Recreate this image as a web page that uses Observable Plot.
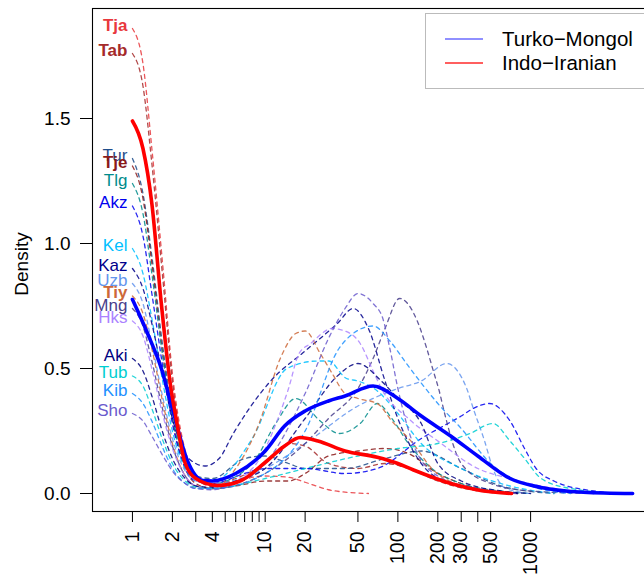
<!DOCTYPE html>
<html><head><meta charset="utf-8">
<script src="https://cdn.jsdelivr.net/npm/d3@7"></script>
<script src="https://cdn.jsdelivr.net/npm/@observablehq/plot@0.6"></script>
<style>body{margin:0;background:#fff;} #chart{width:644px;height:577px;}</style>
</head><body><div id="chart"></div>
<script>
// Density curves: [x, density]
const Tja = [[1,1.86],[1.2,1.72],[1.4,1.38],[1.7,0.9],[2,0.48],[2.5,0.17],[3,0.07],[4,0.03],[6,0.05],[10,0.07],[15,0.065],[20,0.045],[30,0.015],[50,0.002],[60,0]];
const Tab = [[1,1.76],[1.2,1.63],[1.4,1.32],[1.7,0.85],[2,0.45],[2.5,0.15],[3,0.06],[4,0.03],[6,0.06],[10,0.12],[15,0.2],[20,0.19],[30,0.12],[50,0.1],[80,0.12],[120,0.1],[200,0.05],[400,0.01],[600,0]];
const Tje = [[1,1.31],[1.2,1.18],[1.4,0.92],[1.7,0.55],[2,0.3],[2.5,0.1],[3,0.04],[4,0.02],[6,0.03],[10,0.05],[15,0.05],[20,0.08],[30,0.15],[50,0.17],[80,0.18],[120,0.16],[200,0.08],[300,0.04],[500,0.01],[800,0]];
const Tiy = [[1,0.79],[1.2,0.72],[1.4,0.58],[1.7,0.36],[2,0.2],[2.5,0.07],[3,0.03],[4,0.02],[6,0.1],[9,0.28],[13,0.54],[17,0.64],[20,0.65],[26,0.56],[32,0.48],[40,0.4],[50,0.38],[70,0.36],[90,0.29],[130,0.2],[180,0.1],[300,0.03],[500,0.005],[700,0]];
const Tur = [[1,1.34],[1.2,1.2],[1.4,0.95],[1.7,0.58],[2,0.33],[2.5,0.13],[3,0.07],[4,0.06],[7,0.14],[10,0.15],[15,0.12],[20,0.1],[40,0.1],[80,0.14],[150,0.17],[300,0.1],[600,0.03],[1500,0]];
const Tlg = [[1,1.24],[1.2,1.12],[1.4,0.88],[1.7,0.54],[2,0.3],[2.5,0.12],[3,0.06],[4,0.04],[8,0.12],[12,0.28],[17,0.38],[26,0.29],[36,0.24],[52,0.28],[70,0.36],[90,0.3],[120,0.2],[180,0.1],[300,0.04],[600,0.01],[1000,0]];
const Akz = [[1,1.15],[1.2,1.03],[1.4,0.8],[1.7,0.5],[2,0.28],[2.5,0.1],[3,0.05],[4,0.04],[7,0.08],[10,0.1],[20,0.1],[40,0.08],[70,0.1],[150,0.22],[300,0.31],[370,0.34],[490,0.36],[700,0.29],[900,0.18],[1100,0.1],[1500,0.05],[3000,0.01],[5000,0]];
const Kel = [[1,0.98],[1.2,0.88],[1.4,0.7],[1.7,0.44],[2,0.25],[2.5,0.1],[3,0.06],[4,0.05],[8,0.22],[14.6,0.5],[25,0.53],[30,0.53],[41,0.46],[50,0.45],[70,0.41],[100,0.32],[150,0.2],[300,0.1],[700,0.03],[1500,0]];
const Kaz = [[1,0.9],[1.2,0.82],[1.4,0.68],[1.7,0.47],[2,0.3],[2.5,0.16],[3,0.12],[3.5,0.11],[4.5,0.14],[5.75,0.24],[11,0.45],[20,0.57],[35,0.68],[46,0.74],[60,0.66],[80,0.45],[100,0.3],[150,0.12],[250,0.04],[500,0.01],[800,0]];
const Uzb = [[1,0.84],[1.2,0.76],[1.4,0.6],[1.7,0.38],[2,0.22],[2.5,0.09],[3,0.05],[4,0.04],[10,0.1],[20,0.2],[50,0.35],[100,0.42],[150,0.45],[233,0.52],[330,0.42],[370,0.34],[450,0.21],[520,0.1],[650,0.02],[1000,0]];
const Mng = [[1,0.74],[1.2,0.67],[1.4,0.53],[1.7,0.33],[2,0.19],[2.5,0.07],[3,0.03],[4,0.02],[10,0.08],[20,0.2],[30,0.3],[50,0.42],[65,0.54],[80,0.66],[103,0.78],[140,0.69],[165,0.58],[185,0.49],[205,0.41],[225,0.32],[300,0.12],[500,0.04],[1000,0.01],[3000,0]];
const Hks = [[1,0.69],[1.2,0.63],[1.4,0.5],[1.7,0.31],[2,0.18],[2.5,0.07],[3,0.03],[4,0.02],[8,0.1],[12.5,0.3],[15,0.42],[18,0.56],[22,0.6],[32,0.66],[40,0.65],[52,0.6],[65,0.49],[77,0.41],[120,0.3],[200,0.21],[400,0.1],[700,0.06],[1500,0.02],[4000,0]];
const Aki = [[1,0.54],[1.2,0.49],[1.4,0.39],[1.7,0.24],[2,0.14],[2.5,0.06],[3,0.03],[4,0.025],[6,0.05],[10,0.1],[20,0.3],[35,0.47],[50,0.52],[75,0.45],[100,0.38],[150,0.28],[200,0.12],[300,0.05],[600,0.01],[1000,0]];
const Tub = [[1,0.47],[1.2,0.43],[1.4,0.34],[1.7,0.21],[2,0.12],[2.5,0.05],[3,0.025],[4,0.02],[10,0.06],[20,0.1],[50,0.15],[100,0.18],[200,0.2],[350,0.24],[520,0.28],[700,0.21],[900,0.14],[1200,0.06],[2000,0.02],[5000,0]];
const Kib = [[1,0.4],[1.2,0.36],[1.4,0.29],[1.7,0.18],[2,0.1],[2.5,0.04],[3,0.02],[4,0.02],[10,0.08],[20,0.25],[36,0.58],[46,0.64],[65,0.67],[87,0.61],[116,0.52],[146,0.45],[200,0.36],[300,0.26],[500,0.12],[1000,0.03],[2000,0]];
const Sho = [[1,0.32],[1.2,0.29],[1.4,0.23],[1.7,0.15],[2,0.09],[2.5,0.04],[3,0.02],[4,0.015],[6,0.04],[10,0.12],[20,0.4],[30,0.62],[40,0.74],[50,0.8],[65,0.76],[77,0.7],[87,0.58],[100,0.42],[130,0.2],[200,0.07],[400,0.02],[800,0]];

// Group means
const turkoMongol = [[1,0.776],[1.3,0.64],[1.65,0.5],[2,0.34],[2.6,0.13],[3.4,0.052],[4,0.05],[6,0.08],[10,0.17],[14,0.27],[20,0.33],[30,0.37],[40,0.39],[65,0.43],[100,0.38],[150,0.31],[250,0.23],[400,0.15],[700,0.06],[1200,0.024],[2500,0.005],[5870,0]];
const indoIranian = [[1,1.49],[1.2,1.38],[1.4,1.16],[1.65,0.76],[1.95,0.42],[2.1,0.32],[2.5,0.12],[3,0.06],[4.4,0.032],[6.6,0.052],[10.3,0.13],[14,0.19],[18.4,0.224],[25,0.21],[40,0.17],[70,0.145],[100,0.12],[130,0.095],[250,0.04],[420,0.012],[720,0]];

const populations = ["Tja","Tab","Tur","Tje","Tlg","Akz","Kel","Kaz","Uzb","Tiy","Mng","Hks","Aki","Tub","Kib","Sho"];
const curves = {Tja,Tab,Tur,Tje,Tlg,Akz,Kel,Kaz,Uzb,Tiy,Mng,Hks,Aki,Tub,Kib,Sho};
const boldNames = ["Tja","Tab","Tje","Tiy"];
const colors = {Tja:"#e8383d",Tab:"#a52a2a",Tur:"#1f4e8b",Tje:"#8b1a1a",Tlg:"#008b8b",Akz:"#0000ee",Kel:"#00bfff",Kaz:"#00008b",Uzb:"#6495ed",Tiy:"#cd6839",Mng:"#483d8b",Hks:"#ab82ff",Aki:"#000080",Tub:"#00ced1",Kib:"#1e90ff",Sho:"#6a5acd"};

const xTicks = [1,2,3,4,5,6,7,8,9,10,20,50,100,200,300,400,500,1000];
const xTickLabels = [1,2,4,10,20,50,100,200,300,500,1000];
const yTicks = [0,0.5,1,1.5];
const legendItems = [{label:"Turko\u2212Mongol", color:"#6b6bff"},{label:"Indo\u2212Iranian", color:"#ff2a2a"}];

const labelRows = populations.map(n => ({name:n, y: curves[n][0][1], color: colors[n], bold: boldNames.includes(n)}));

const font = "Liberation Sans, Arial, Helvetica, sans-serif";
const plot = Plot.plot({
  width: 644, height: 577,
  marginLeft: 92, marginTop: 8, marginBottom: 66, marginRight: -3,
  style: {fontFamily: font, background: "#fff", overflow: "hidden"},
  x: {type: "log", domain: [0.5, 7600]},
  y: {domain: [-0.072, 1.94]},
  color: {type: "identity"},
  marks: [
    Plot.frame({stroke: "#000", strokeWidth: 1.1}),
    Plot.axisY(yTicks, {tickSize: 12, tickPadding: 10, tickFormat: d3.format(".1f"), fontSize: 19, label: null, stroke: "#000", color:"#000"}),
    Plot.axisX(xTicks, {tickSize: 11, text: null, label: null, stroke: "#000"}),
    Plot.text(xTickLabels, {x: d => d, text: d => String(d), frameAnchor: "bottom", rotate: -90, textAnchor: "end",
      lineAnchor: "middle", dy: 20, fontSize: 19.5, fill: "#000"}),
    ...populations.map(n => Plot.line(curves[n], {x: d => d[0], y: d => d[1], stroke: colors[n], strokeWidth: 1.3,
      strokeDasharray: "4,4", strokeOpacity: 0.85, curve: "monotone-x"})),
    Plot.line(turkoMongol, {x: d => d[0], y: d => d[1], stroke: "#0000ff", strokeWidth: 3.6, curve: "monotone-x"}),
    Plot.line(indoIranian, {x: d => d[0], y: d => d[1], stroke: "#ff0000", strokeWidth: 3.6, curve: "monotone-x"}),
    Plot.text(labelRows.filter(d => !d.bold), {x: () => 1, y: "y", text: "name", fill: "color", textAnchor: "end", dx: -5, dy: -3, fontSize: 17}),
    Plot.text(labelRows.filter(d => d.bold), {x: () => 1, y: "y", text: "name", fill: "color", textAnchor: "end", dx: -5, dy: -3, fontSize: 17, fontWeight: "bold"})
  ]
});
document.getElementById("chart").appendChild(plot);

const svg = d3.select(plot);
svg.append("text").attr("transform", "translate(28,264) rotate(-90)").attr("text-anchor", "middle")
  .attr("font-size", 19).attr("font-family", font).attr("fill", "#000").text("Density");
const lg = svg.append("g");
lg.append("rect").attr("x", 425.5).attr("y", 13.5).attr("width", 240).attr("height", 75)
  .attr("fill", "#fff").attr("stroke", "#bbb").attr("stroke-width", 1);
legendItems.forEach((d, i) => {
  const y = 39 + i * 24;
  lg.append("line").attr("x1", 445).attr("x2", 483).attr("y1", y).attr("y2", y).attr("stroke", d.color).attr("stroke-width", 1.5);
  lg.append("text").attr("x", 502).attr("y", y).attr("dy", "0.36em").attr("text-anchor", "start").attr("font-size", 20.5)
    .attr("font-family", font).attr("fill", "#000").text(d.label);
});
</script></body></html>
